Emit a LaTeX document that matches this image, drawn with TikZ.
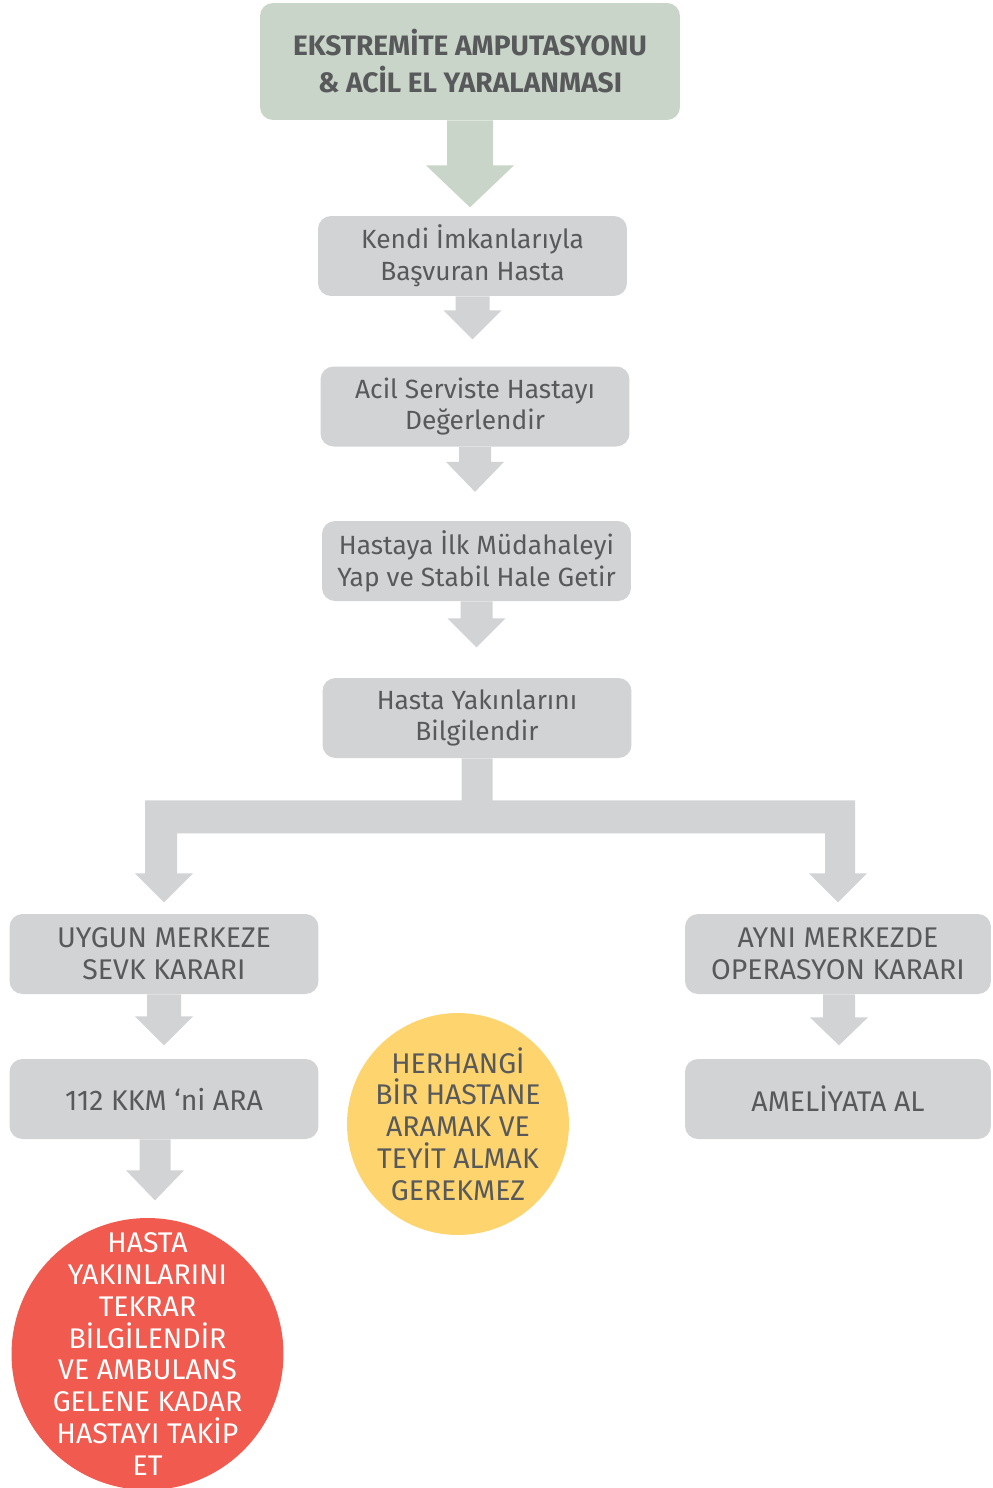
\documentclass[tikz,border=0pt]{standalone}
\usepackage{fontspec}
\setmainfont{Fira Sans}
\usepackage{tikz}
\usetikzlibrary{calc}
\definecolor{Cg}{RGB}{209,211,212}
\definecolor{Cm}{RGB}{201,213,200}
\definecolor{Cy}{RGB}{253,212,110}
\definecolor{Cr}{RGB}{240,90,79}
\definecolor{Ctxt}{RGB}{88,89,91}
\tikzset{
  B/.style n args={1}{
    fill=#1, rounded corners=0.26cm,
    minimum width=6.18cm, minimum height=1.6cm,
    align=center, inner sep=2pt, text=Ctxt,
    font=\fontsize{15}{18.1}\selectfont
  },
  BC/.style n args={1}{
    B={#1}, font=\fontsize{16.2}{18.1}\selectfont
  },
  TOP/.style={
    fill=Cm, rounded corners=0.26cm,
    minimum width=8.4cm, minimum height=2.34cm,
    align=center, inner sep=2pt, text=Ctxt,
    font=\fontsize{16}{21}\selectfont\bfseries
  },
  C/.style n args={1}{
    circle, fill=#1, inner sep=0pt
  },
  T/.style={align=center, inner sep=0pt,
    font=\fontsize{16.2}{18.1}\selectfont},
  arw/.style={fill=Cg},
  arwm/.style={fill=Cm}
}
% block arrow under a node: [style]{node}{xoff}{shaft}{head}{shaft half}{head half}
\newcommand{\fatarr}[7][arw]{%
  \fill[#1] ($(#2.south)+(#3-#6,0)$) -- ++(0,#4) -- ++(#6-#7,0)
    -- ++(#7,#5) -- ++(#7,-#5) -- ++(#6-#7,0) -- ++(0,-#4) -- cycle;}

\begin{document}
\begin{tikzpicture}[x=0.02cm, y=-0.02cm]
\useasboundingbox (0,0) rectangle (992,1488);

% ─────────────────────────────────────────────────────────────────────────────
%  MAIN COLUMN
% ─────────────────────────────────────────────────────────────────────────────
\node[TOP] (amp) at (470,61.5)
  {EKSTREMİTE AMPUTASYONU\\\& ACİL EL YARALANMASI};

\node[B={Cg}] (kendi) at (472.5,256)  {Kendi İmkanlarıyla\\Başvuran Hasta};
\node[B={Cg}] (acil)  at (475,406.5)  {Acil Serviste Hastayı\\Değerlendir};
\node[B={Cg}] (ilk)   at (476.5,561)  {Hastaya İlk Müdahaleyi\\Yap ve Stabil Hale Getir};
\node[B={Cg}] (bilgi) at (477,718)    {Hasta Yakınlarını\\Bilgilendir};

% ─────────────────────────────────────────────────────────────────────────────
%  LEFT BRANCH  (sevk)
% ─────────────────────────────────────────────────────────────────────────────
\node[BC={Cg}] (uygun) at (164,954)  {UYGUN MERKEZE\\SEVK KARARI};
\node[BC={Cg}] (kkm)   at (164,1099) {112 KKM ‘ni ARA};

\node[C={Cr}, minimum size=5.44cm] (hasta) at (147.5,1354) {};
\node[T, text=white] (hastatxt) at (hasta.center)
  {HASTA\\YAKINLARINI\\TEKRAR\\BİLGİLENDİR\\VE AMBULANS\\GELENE KADAR\\HASTAYI TAKİP\\ET};

% ─────────────────────────────────────────────────────────────────────────────
%  RIGHT BRANCH  (operasyon)
% ─────────────────────────────────────────────────────────────────────────────
\node[BC={Cg}, minimum width=6.12cm] (ayni)  at (838,954)  {AYNI MERKEZDE\\OPERASYON KARARI};
\node[BC={Cg}, minimum width=6.12cm] (ameli) at (838,1099) {AMELİYATA AL};

% note in the middle
\node[C={Cy}, minimum size=4.44cm] (herhangi) at (458,1124) {};
\node[T, text=Ctxt] (herhangitxt) at (herhangi.center)
  {HERHANGİ\\BİR HASTANE\\ARAMAK VE\\TEYİT ALMAK\\GEREKMEZ};

% ─────────────────────────────────────────────────────────────────────────────
%  ARROWS
% ─────────────────────────────────────────────────────────────────────────────
\fatarr[arwm]{amp}{0}{45}{42}{23}{44}
\fatarr{kendi}{0}{14}{29}{17}{29}
\fatarr{acil}{0}{15}{30}{16}{29}
\fatarr{ilk}{0}{17}{29}{16}{29}

% fork: bilgi → uygun / ayni
\coordinate (fork) at ($(bilgi.south)+(0,42)$);
\fill[arw]
  ($(bilgi.south)+(-15.5,0)$) -- ($(fork)+(-15.5,0)$)
  -- ($(fork -| uygun.north)+(-19,0)$) -- ++(0,73) -- ++(-10,0)
  -- ++(29,29) -- ++(29,-29) -- ++(-16,0) -- ++(0,-40)
  -- ($(fork -| ayni.north)+(-13,33)$) -- ++(0,40) -- ++(-16,0)
  -- ++(29,29) -- ++(29,-29) -- ++(-12,0) -- ++(0,-73)
  -- ($(fork)+(15.5,0)$) -- ($(bilgi.south)+(15.5,0)$) -- cycle;

\fatarr{uygun}{0}{22}{29}{17}{29}
\fatarr{kkm}{-9}{31}{30}{15.5}{29}
\fatarr{ayni}{1}{23}{28}{16}{29}

\end{tikzpicture}
\end{document}
